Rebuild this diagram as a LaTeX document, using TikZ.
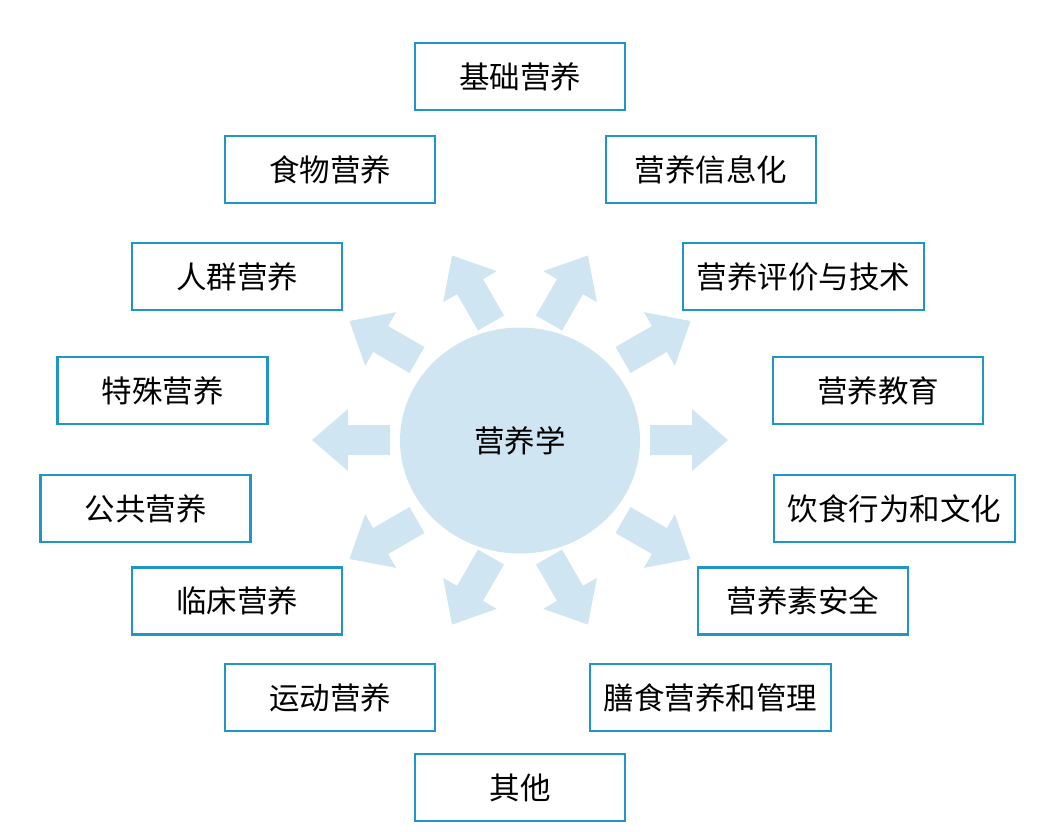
\documentclass[tikz,border=0pt]{standalone}
\usepackage{fontspec}
\newfontfamily\cjk{Noto Sans CJK SC}
\usepackage{tikz}
\usetikzlibrary{positioning,shapes}

\definecolor{topicblue}{RGB}{30,150,200}
\definecolor{spokeblue}{RGB}{207,230,242}

\begin{document}
\begin{tikzpicture}
[
	x	= 1pt,	% one unit is one pixel of the layout
	y	= -1pt,	% rows run downwards
	topic/.style	= {draw=topicblue, line width=2.2pt, fill=white, inner sep=0pt, minimum width=210pt, minimum height=67pt, font=\cjk\fontsize{30.5}{36}\selectfont},
	widetopic/.style	= {topic, minimum width=241pt},
	spoke/.style	= {fill=spokeblue},
]

\useasboundingbox (0,0) rectangle (1056,831);

% the spokes round the core
\foreach \px/\py/\ang in {650/440/0, 623/360/30, 549/323/60, 491/323/120, 417/360/150, 390/440/180, 417/520/210, 491/557/240, 549/557/300, 623/520/330}
	\fill [spoke, shift={(\px,\py)}, rotate=\ang] (0,-15) -- (42,-15) -- (42,-31) -- (78,0) -- (42,31) -- (42,15) -- (0,15) -- cycle;

\node (core) [ellipse, spoke, inner sep=0pt, minimum width=240pt, minimum height=226pt, font=\cjk\fontsize{30.5}{36}\selectfont] at (520,440.5) {营养学};

\node (basic) [topic] at (520,76.5) {基础营养};
\node (food) [topic] at (330,169.5) {食物营养};
\node (info) [topic] at (711,169.5) {营养信息化};
\node (group) [topic] at (237,276.5) {人群营养};
\node (assess) [widetopic] at (803.5,276.5) {营养评价与技术};
\node (special) [topic] at (162.5,390.5) {特殊营养};
\node (edu) [topic] at (878,390.5) {营养教育};
\node (public) [topic] at (145.5,508.5) {公共营养};
\node (culture) [widetopic] at (894.5,508.5) {饮食行为和文化};
\node (clinic) [topic] at (237,601) {临床营养};
\node (safety) [topic] at (803,601) {营养素安全};
\node (sport) [topic] at (330,697.5) {运动营养};
\node (manage) [widetopic] at (710.5,697.5) {膳食营养和管理};
\node (other) [topic] at (520,787.5) {其他};

\end{tikzpicture}
\end{document}
